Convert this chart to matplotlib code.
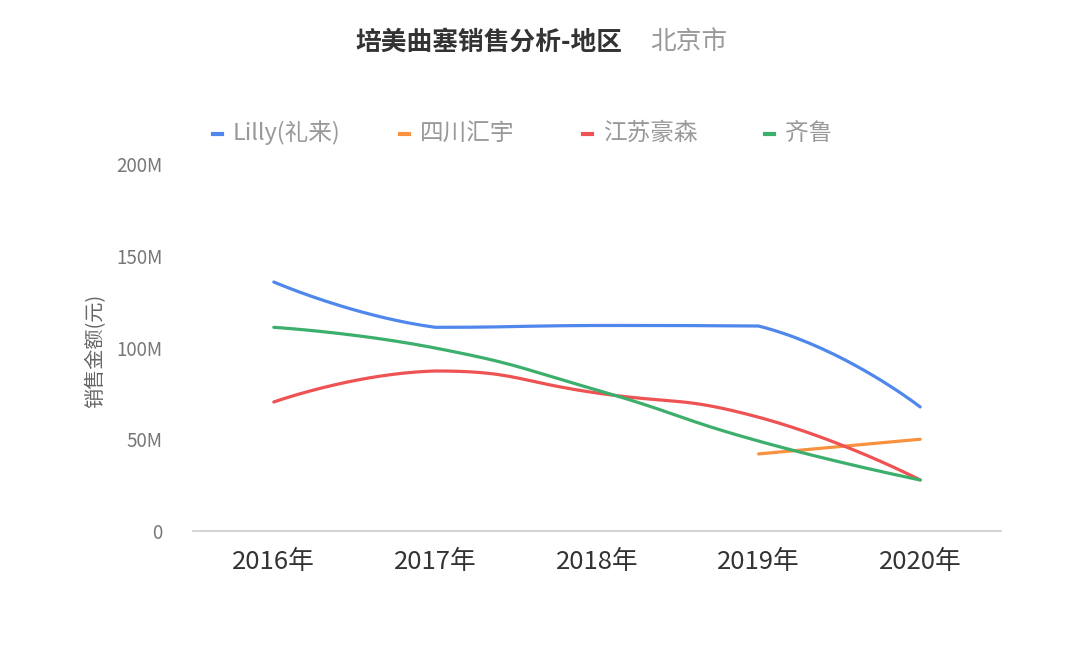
import matplotlib
matplotlib.use('Agg')
import matplotlib.pyplot as plt
from matplotlib.lines import Line2D
import numpy as np

plt.rcParams['font.family'] = ['Noto Sans CJK SC', 'DejaVu Sans']

# ==============================================================================
# data (values in M RMB)
years = ['2016年', '2017年', '2018年', '2019年', '2020年']
names = ['Lilly(礼来)', '四川汇宇', '江苏豪森', '齐鲁']
colors = ['#5087EC', '#F89240', '#EE5253', '#3DAF6D']
lilly = [135.7, 111.0, 112.0, 111.7, 67.6]
sichuan = [None, None, None, 42.0, 50.0]
haosen = [70.3, 87.2, 75.2, 62.0, 27.8]
qilu = [111.0, 99.7, 76.8, 49.0, 27.8]
series = [lilly, sichuan, haosen, qilu]
yticks = [0, 50, 100, 150, 200]
ytick_labels = ['0', '50M', '100M', '150M', '200M']


# ==============================================================================
def smooth_line(xs, ys, smooth=0.5, sx=161.75, sy=1.835, n=40):
    '''bezier smoothing similar to echarts smooth lines (clamped cps)'''
    p = np.column_stack([np.asarray(xs, float) * sx, np.asarray(ys, float) * sy])
    m = len(p)
    if m < 3:
        return p[:, 0] / sx, p[:, 1] / sy
    cin = p.copy()
    cout = p.copy()
    for i in range(1, m - 1):
        v = p[i + 1] - p[i - 1]
        d0 = np.linalg.norm(p[i] - p[i - 1])
        d1 = np.linalg.norm(p[i + 1] - p[i])
        cin[i] = p[i] - v * smooth * d0 / (d0 + d1)
        cout[i] = p[i] + v * smooth * d1 / (d0 + d1)
        # keep control points inside the neighbouring y range
        lo, hi = sorted([p[i - 1, 1], p[i, 1]])
        cin[i, 1] = min(max(cin[i, 1], lo), hi)
        lo, hi = sorted([p[i, 1], p[i + 1, 1]])
        cout[i, 1] = min(max(cout[i, 1], lo), hi)
    out = []
    t = np.linspace(0, 1, n)[:, None]
    for i in range(m - 1):
        a, b, c, d = p[i], cout[i], cin[i + 1], p[i + 1]
        seg = ((1 - t) ** 3) * a + 3 * ((1 - t) ** 2) * t * b + \
            3 * (1 - t) * t ** 2 * c + t ** 3 * d
        out.append(seg if i == 0 else seg[1:])
    out = np.vstack(out)
    return out[:, 0] / sx, out[:, 1] / sy


# ==============================================================================
fig = plt.figure(figsize=(10.8, 6.47), dpi=100)
ax = fig.add_axes([193 / 1080, 1 - 531 / 647, 808 / 1080, 367 / 647])

for vals, col in zip(series, colors):
    xs = [i for i, v in enumerate(vals) if v is not None]
    ys = [v for v in vals if v is not None]
    sx, sy = smooth_line(xs, ys)
    ax.plot(sx, sy, color=col, lw=2.3, solid_capstyle='round', zorder=3)

ax.set_xlim(-0.5, 4.5)
ax.set_ylim(0, 200)
ax.set_xticks(range(len(years)))
ax.set_xticklabels(years, fontsize=18.5, color='#333333')
ax.set_yticks(yticks)
ax.set_yticklabels(ytick_labels, fontsize=13.5, color='#777777',
                   fontweight='light')
ax.tick_params(axis='both', length=0)
ax.tick_params(axis='x', pad=13)
ax.tick_params(axis='y', pad=22)
for s in ['top', 'right', 'left']:
    ax.spines[s].set_visible(False)
ax.spines['bottom'].set_color('#cccccc')
ax.spines['bottom'].set_linewidth(1.2)
ax.set_ylabel('销售金额(元)', fontsize=14.5, color='#666666')
ax.yaxis.set_label_coords(-0.107, 0.49)

# title
fig.text(622 / 1080, 1 - 42 / 647, '培美曲塞销售分析-地区', fontsize=18.5,
         fontweight='semibold', color='#333333', ha='right', va='center')
fig.text(650 / 1080, 1 - 42 / 647, '北京市', fontsize=18.5, color='#999999',
         ha='left', va='center')

# legend
leg_x = [213, 400, 583, 765]
for x0, name, col in zip(leg_x, names, colors):
    fig.add_artist(Line2D([x0 / 1080, (x0 + 9) / 1080],
                          [1 - 134 / 647, 1 - 134 / 647], color=col, lw=3,
                          transform=fig.transFigure))
    fig.text((x0 + 20) / 1080, 1 - 133 / 647, name, fontsize=17,
             color='#999999', ha='left', va='center', fontweight='light')

fig.savefig('out.png', dpi=100)
